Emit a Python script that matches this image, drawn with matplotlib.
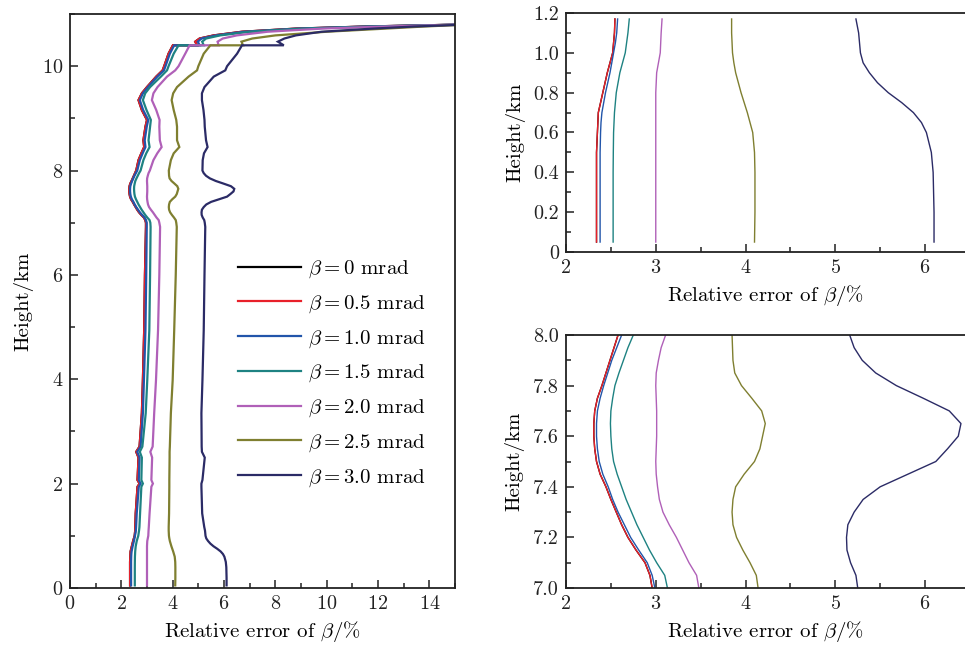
import matplotlib
matplotlib.use("Agg")
import matplotlib.pyplot as plt
import numpy as np
from matplotlib.ticker import MultipleLocator, FixedLocator, FixedFormatter

plt.rcParams['font.family'] = ['cmr10', 'DejaVu Serif']
plt.rcParams['mathtext.fontset'] = 'cm'
plt.rcParams['axes.formatter.use_mathtext'] = True
plt.rcParams['axes.unicode_minus'] = False

# ---------------- data ----------------
heights = [0.05, 0.2, 0.4, 0.5, 0.6, 0.65, 0.7, 0.75, 0.8, 0.85, 0.9, 0.95, 1.0, 1.05, 1.1, 1.17,
           1.43, 1.94, 2.0, 2.07, 2.5, 2.61, 2.71, 3.35, 3.98, 4.94, 6.0, 6.92,
           7.0, 7.05, 7.1, 7.15, 7.2, 7.25, 7.3, 7.35, 7.4, 7.45, 7.5, 7.55, 7.6, 7.65, 7.7, 7.75,
           7.8, 7.85, 7.9, 7.95, 8.0,
           8.2, 8.33, 8.45, 8.58, 8.84, 8.97, 9.16, 9.35, 9.48, 9.6, 9.8, 9.92, 10.0, 10.24, 10.40,
           10.40, 10.47, 10.53, 10.59, 10.66, 10.72, 10.76, 10.80]

err_b00 = [2.34, 2.34, 2.34, 2.34, 2.35, 2.355, 2.36, 2.385, 2.41, 2.435, 2.46, 2.49, 2.52, 2.53, 2.54, 2.545,
           2.56, 2.63, 2.71, 2.63, 2.67, 2.58, 2.71, 2.80, 2.84, 2.89, 2.92, 2.96,
           2.96, 2.935, 2.88, 2.78, 2.69, 2.62, 2.56, 2.50, 2.445, 2.38, 2.34, 2.32, 2.31, 2.31, 2.32, 2.35,
           2.40, 2.445, 2.49, 2.535, 2.58,
           2.67, 2.78, 2.89, 2.86, 2.94, 3.00, 2.80, 2.67, 2.80, 3.00, 3.36, 3.61, 3.67, 3.84, 4.01,
           4.95, 4.88, 5.05, 5.6, 6.7, 8.8, 11.5, 15.5]
err_b05 = [2.34, 2.34, 2.34, 2.34, 2.35, 2.355, 2.36, 2.385, 2.41, 2.435, 2.46, 2.49, 2.52, 2.53, 2.54, 2.545,
           2.56, 2.63, 2.71, 2.63, 2.67, 2.58, 2.71, 2.80, 2.84, 2.89, 2.92, 2.96,
           2.96, 2.935, 2.88, 2.78, 2.69, 2.62, 2.56, 2.50, 2.445, 2.38, 2.34, 2.32, 2.31, 2.31, 2.32, 2.35,
           2.40, 2.445, 2.49, 2.535, 2.58,
           2.67, 2.78, 2.89, 2.86, 2.94, 3.00, 2.80, 2.67, 2.80, 3.00, 3.36, 3.61, 3.67, 3.84, 4.01,
           4.95, 4.88, 5.05, 5.6, 6.7, 8.8, 11.5, 15.5]
err_b10 = [2.38, 2.38, 2.38, 2.38, 2.385, 2.39, 2.40, 2.42, 2.44, 2.465, 2.49, 2.51, 2.53, 2.55, 2.565, 2.575,
           2.60, 2.68, 2.75, 2.68, 2.71, 2.62, 2.75, 2.84, 2.88, 2.94, 2.97, 2.99,
           2.99, 2.96, 2.905, 2.81, 2.72, 2.65, 2.58, 2.52, 2.47, 2.41, 2.37, 2.35, 2.34, 2.34, 2.35, 2.38,
           2.42, 2.465, 2.51, 2.565, 2.62,
           2.72, 2.83, 2.94, 2.91, 2.99, 3.05, 2.85, 2.72, 2.84, 3.04, 3.40, 3.66, 3.72, 3.89, 4.06,
           5.05, 4.98, 5.12, 5.7, 6.8, 8.9, 11.6, 15.5]
err_b15 = [2.525, 2.525, 2.525, 2.527, 2.53, 2.535, 2.54, 2.55, 2.56, 2.58, 2.60, 2.63, 2.66, 2.675, 2.69, 2.705,
           2.73, 2.78, 2.84, 2.78, 2.80, 2.72, 2.82, 2.95, 3.01, 3.09, 3.12, 3.14,
           3.13, 3.10, 3.01, 2.93, 2.86, 2.79, 2.73, 2.67, 2.62, 2.57, 2.53, 2.51, 2.50, 2.495, 2.50, 2.52,
           2.545, 2.59, 2.64, 2.69, 2.75,
           2.86, 2.97, 3.10, 3.06, 3.12, 3.15, 2.98, 2.84, 2.93, 3.12, 3.54, 3.78, 3.84, 4.04, 4.23,
           5.21, 5.15, 5.3, 5.85, 7.0, 9.1, 11.8, 15.5]
err_b20 = [3.0, 3.0, 3.0, 3.0, 3.0, 3.0, 3.0, 3.0, 3.0, 3.005, 3.01, 3.03, 3.05, 3.055, 3.06, 3.07,
           3.10, 3.17, 3.23, 3.17, 3.20, 3.13, 3.22, 3.28, 3.35, 3.43, 3.48, 3.51,
           3.48, 3.455, 3.37, 3.30, 3.23, 3.15, 3.08, 3.04, 3.02, 3.005, 3.0, 3.005, 3.01, 3.01, 3.01, 3.005,
           3.0, 3.005, 3.03, 3.06, 3.11,
           3.25, 3.40, 3.57, 3.50, 3.48, 3.49, 3.36, 3.19, 3.25, 3.41, 3.78, 4.10, 4.23, 4.49, 4.66,
           5.79, 5.75, 5.95, 6.5, 7.7, 9.8, 12.3, 15.5]
err_b25 = [4.10, 4.105, 4.105, 4.10, 4.08, 4.05, 4.02, 3.985, 3.95, 3.92, 3.89, 3.87, 3.855, 3.85, 3.845, 3.845,
           3.86, 3.87, 3.87, 3.87, 3.88, 3.88, 3.89, 3.93, 4.00, 4.06, 4.12, 4.16,
           4.14, 4.12, 4.05, 3.97, 3.90, 3.86, 3.85, 3.86, 3.89, 3.985, 4.10, 4.16, 4.19, 4.22, 4.18, 4.07,
           3.955, 3.88, 3.86, 3.855, 3.85,
           3.93, 4.04, 4.26, 4.17, 4.17, 4.14, 4.04, 3.96, 4.02, 4.17, 4.62, 4.95, 5.00, 5.21, 5.47,
           6.74, 6.68, 7.1, 8.0, 10.0, 12.3, 13.8, 15.6]
err_b30 = [6.10, 6.10, 6.09, 6.07, 6.015, 5.96, 5.87, 5.74, 5.59, 5.47, 5.38, 5.31, 5.28, 5.27, 5.26, 5.23,
           5.15, 5.12, 5.12, 5.16, 5.25, 5.14, 5.13, 5.12, 5.16, 5.21, 5.24, 5.27,
           5.25, 5.23, 5.17, 5.13, 5.125, 5.14, 5.21, 5.31, 5.50, 5.81, 6.12, 6.25, 6.37, 6.40, 6.27, 5.98,
           5.68, 5.45, 5.30, 5.21, 5.16,
           5.17, 5.22, 5.36, 5.30, 5.25, 5.24, 5.20, 5.14, 5.14, 5.24, 5.60, 6.05, 6.12, 6.51, 6.70,
           8.33, 8.1, 8.35, 8.8, 9.8, 11.8, 13.4, 15.6]

labels = [r'$\beta=0$ mrad', r'$\beta=0.5$ mrad', r'$\beta=1.0$ mrad', r'$\beta=1.5$ mrad',
          r'$\beta=2.0$ mrad', r'$\beta=2.5$ mrad', r'$\beta=3.0$ mrad']
colors = ['#000000', '#e8202a', '#2255aa', '#1e8282', '#b060b8', '#7f7f30', '#2b2b66']
series = [err_b00, err_b05, err_b10, err_b15, err_b20, err_b25, err_b30]

H = np.array(heights)

fig = plt.figure(figsize=(9.65, 6.47), dpi=100)
W, Hf = 965.0, 647.0

def axrect(l, t, r, b):
    return [l / W, (Hf - b) / Hf, (r - l) / W, (b - t) / Hf]

ax1 = fig.add_axes(axrect(70, 14, 455, 588))
ax2 = fig.add_axes(axrect(566, 13, 965, 252))
ax3 = fig.add_axes(axrect(566, 335, 965, 588))

FS_T = 14.5
FS_L = 15

for s, c, lab in zip(series, colors, labels):
    ax1.plot(s, H, color=c, lw=1.6, label=lab, solid_joinstyle='miter')

ax1.set_xlim(0, 15)
ax1.set_ylim(0, 11)
ax1.xaxis.set_major_locator(MultipleLocator(2))
ax1.xaxis.set_minor_locator(MultipleLocator(1))
ax1.yaxis.set_major_locator(MultipleLocator(2))
ax1.yaxis.set_minor_locator(MultipleLocator(1))
ax1.set_xlabel(r'Relative error of $\beta$/%', fontsize=FS_L, labelpad=4)
ax1.set_ylabel('Height/km', fontsize=FS_L, labelpad=6)

leg = ax1.legend(frameon=False, loc='upper left', bbox_to_anchor=(0.415, 0.588),
                 fontsize=FS_L, handlelength=3.0, handletextpad=0.35, labelspacing=0.63,
                 borderaxespad=0.0)

mask_low = H <= 1.17
mask_mid = (H >= 6.9) & (H <= 8.25)
for s, c in zip(series, colors):
    sa = np.array(s)
    ax2.plot(sa[mask_low], H[mask_low], color=c, lw=1.0)
    ax3.plot(sa[mask_mid], H[mask_mid], color=c, lw=1.0)

for ax in (ax2, ax3):
    ax.set_xlim(2, 6.445)
    ax.xaxis.set_major_locator(MultipleLocator(1))
    ax.xaxis.set_minor_locator(MultipleLocator(0.5))
    ax.yaxis.set_minor_locator(MultipleLocator(0.1))
    ax.set_xlabel(r'Relative error of $\beta$/%', fontsize=FS_L, labelpad=4)
    ax.set_ylabel('Height/km', fontsize=FS_L, labelpad=6)
    ax.spines['right'].set_visible(False)

ax2.set_ylim(0, 1.2)
yt2 = [0, 0.2, 0.4, 0.6, 0.8, 1.0, 1.2]
ax2.yaxis.set_major_locator(FixedLocator(yt2))
ax2.yaxis.set_major_formatter(FixedFormatter(['0', '0.2', '0.4', '0.6', '0.8', '1.0', '1.2']))

ax3.set_ylim(7.0, 8.0)
yt3 = [7.0, 7.2, 7.4, 7.6, 7.8, 8.0]
ax3.yaxis.set_major_locator(FixedLocator(yt3))
ax3.yaxis.set_major_formatter(FixedFormatter(['7.0', '7.2', '7.4', '7.6', '7.8', '8.0']))

for ax in (ax1, ax2, ax3):
    ax.tick_params(which='both', direction='in', top=False, right=False,
                   labelsize=FS_T, width=1.1, colors='#222222', labelcolor='#222222')
    ax.tick_params(which='major', length=6, pad=5)
    ax.tick_params(which='minor', length=3.5)
    for sp in ax.spines.values():
        sp.set_linewidth(1.3)
        sp.set_color('#222222')

fig.savefig('out.png', dpi=100)
